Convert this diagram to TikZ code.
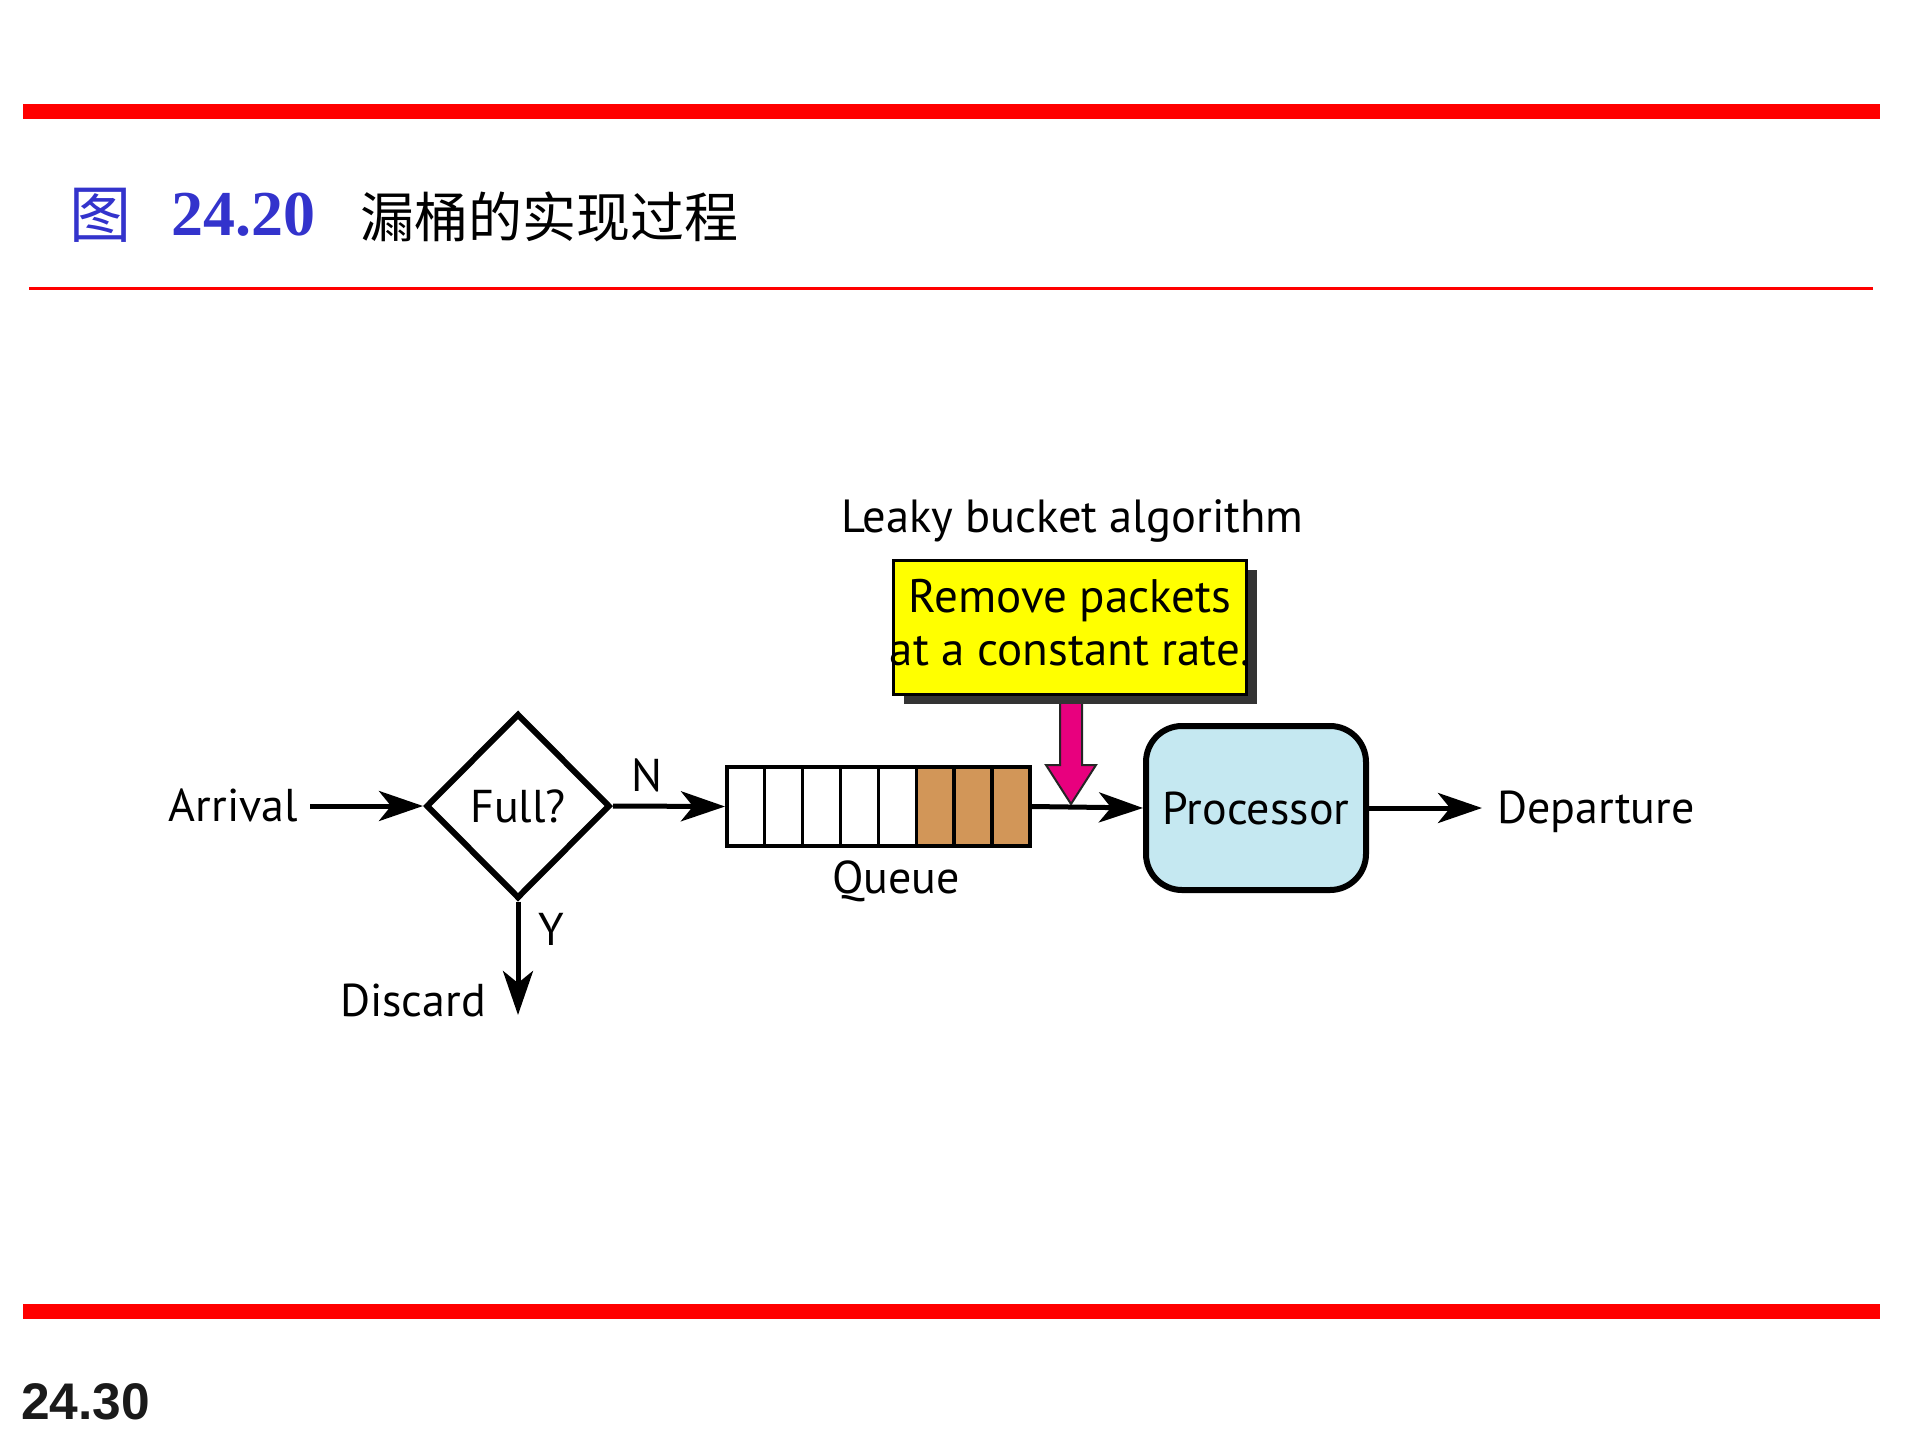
\documentclass[tikz,border=0pt]{standalone}
\usepackage{fontspec}
\usetikzlibrary{arrows.meta,shapes.geometric,shadows,calc,backgrounds}
\newfontfamily\diagfont{PT Sans}
\newfontfamily\cjkfont{Noto Sans CJK SC}
\newfontfamily\titlenumfont{Liberation Serif}
\newfontfamily\pagenumfont{Liberation Sans}
\definecolor{barred}{HTML}{FF0000}
\definecolor{titleblue}{HTML}{3333CC}
\definecolor{boxyellow}{HTML}{FFFF00}
\definecolor{packettan}{HTML}{D29658}
\definecolor{procblue}{HTML}{C5E8F1}
\definecolor{pushmagenta}{HTML}{E8007E}
\definecolor{pagegray}{HTML}{1A1A1A}
\tikzset{
  lbl/.style={font=\diagfont\fontsize{46}{52}\selectfont, inner sep=0pt},
  conn/.style={line width=5pt, -{Stealth[length=44pt,width=30pt,inset=12pt]}},
  cellbox/.style={draw, line width=3.5pt, minimum width=37.9pt, minimum height=79pt, inner sep=0pt, anchor=west},
  emptycell/.style={cellbox, fill=white},
  fullcell/.style={cellbox, fill=packettan},
}
\begin{document}
\begin{tikzpicture}[x=1pt,y=-1pt]
\useasboundingbox (0,0) rectangle (1920,1440);
% bars
\fill[barred] (23,104) rectangle (1880,119);
\fill[barred] (29,286.5) rectangle (1873,289.5);
\fill[barred] (23,1304) rectangle (1880,1319);
% title
\node[anchor=base west, inner sep=0pt, text=titleblue, font=\cjkfont\fontsize{62}{64}\selectfont] (figchar) at (69,237) {图};
\node[anchor=base west, inner sep=0pt, text=titleblue, font=\titlenumfont\bfseries\fontsize{64}{66}\selectfont] (fignum) at (171,235) {24.20};
\node[anchor=base west, inner sep=0pt, font=\cjkfont\fontsize{54}{56}\selectfont] (figtitle) at (360,237) {漏桶的实现过程};
\node[anchor=base west, inner sep=0pt, text=pagegray, font=\pagenumfont\bfseries\fontsize{51.5}{54}\selectfont] (pagenum) at (21,1419) {24.30};
% diagram
\node[lbl, anchor=base east] (arrival) at (298,821) {Arrival};
\node[diamond, draw, line width=6pt, minimum width=184pt, minimum height=185pt, inner sep=0pt, font=\diagfont\fontsize{46}{52}\selectfont] (full) at (518,806) {Full?};
\foreach \i in {1,...,5} {
  \node[emptycell] (q\i) at ({725+(\i-1)*37.9},806.5) {};
}
\foreach \i in {6,7,8} {
  \node[fullcell] (q\i) at ({725+(\i-1)*37.9},806.5) {};
}
\node[lbl, anchor=base] (queue) at (896,893) {Queue};
\node[draw, rounded corners=36pt, fill=procblue, line width=6pt, minimum width=220pt, minimum height=164pt, inner sep=0pt, font=\diagfont\fontsize{46}{52}\selectfont] (proc) at (1256,808) {Processor};
\node[lbl, anchor=base west] (depart) at (1497,823) {Departure};
\node[lbl, anchor=base] (nlab) at (647,791) {N};
\node[lbl, anchor=base] (ylab) at (551,945) {Y};
\node[lbl, anchor=base east] (discard) at (486,1016) {Discard};
\node[lbl, anchor=base west, font=\diagfont\fontsize{46.5}{52}\selectfont] (lba) at (841,532) {Leaky bucket algorithm};
\node[draw, fill=boxyellow, line width=3pt, minimum width=353pt, minimum height=134pt, inner sep=0pt,
      drop shadow={shadow xshift=10pt, shadow yshift=-10pt, fill=black!80, opacity=1}] (algo) at (1070,627) {};
\node[align=center, inner sep=0pt, font=\diagfont\fontsize{47}{53}\selectfont] (algotext) at ([yshift=4pt]algo.center) {Remove packets\\at a constant rate.};
% connectors
\coordinate (arrstart) at ([xshift=12pt]arrival.east);
\draw[conn] (arrstart |- full.west) -- (full.west);
\draw[conn] (full.east) -- (q1.west);
\draw[conn] (q8.east) -- (proc.west);
\coordinate (depend) at ([xshift=-15pt]depart.west);
\draw[conn] (proc.east) -- (depend |- proc.east);
\coordinate (discend) at (518,1015);
\draw[conn] (full.south) -- (discend);
% push arrow
\coordinate (tip) at (1071,804);
\begin{pgfonlayer}{background}
\filldraw[fill=pushmagenta, draw=black!85, line width=2pt]
  ($(algo.south)+(-10,0)$) -- ($(tip)+(-11,-39)$) -- ($(tip)+(-25,-39)$) -- (tip)
  -- ($(tip)+(25,-39)$) -- ($(tip)+(11,-39)$) -- ($(algo.south)+(12,0)$) -- cycle;
\end{pgfonlayer}
\end{tikzpicture}
\end{document}
